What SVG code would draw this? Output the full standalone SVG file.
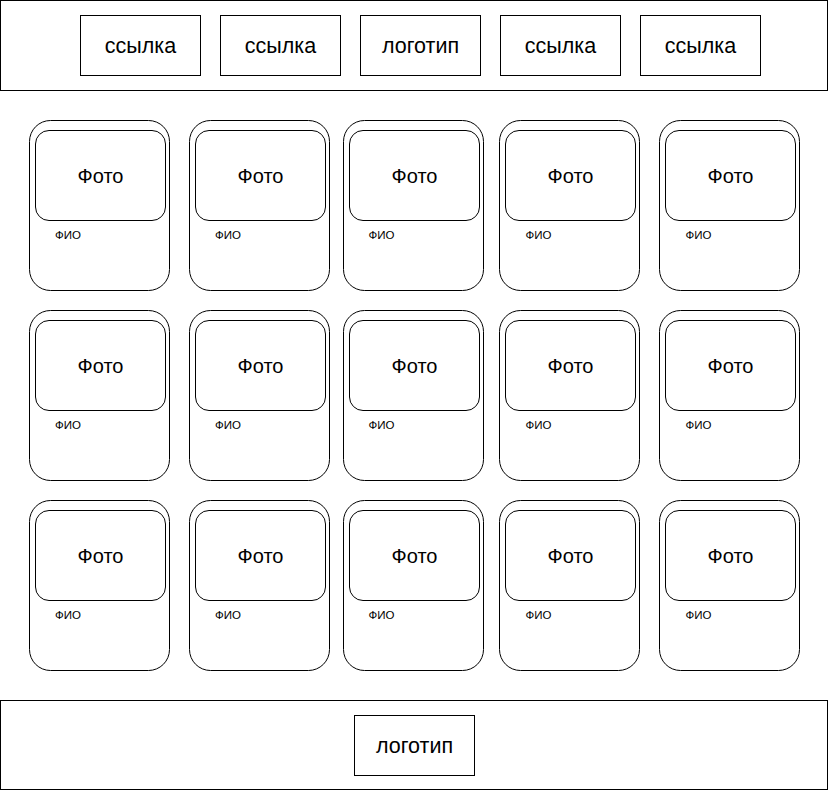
<svg xmlns="http://www.w3.org/2000/svg" width="828" height="791" viewBox="0 0 828 791">
<style>
rect{fill:#fff;stroke:#000;stroke-width:1}
.big{font-family:"Liberation Sans",Arial,sans-serif;font-size:20px;fill:#000;text-anchor:middle;dominant-baseline:central}
.nav{font-family:"Liberation Sans",Arial,sans-serif;font-size:21.5px;fill:#000;text-anchor:middle;dominant-baseline:central}
.small{font-family:"Liberation Sans",Arial,sans-serif;font-size:11.5px;fill:#000;dominant-baseline:central}
</style>
<rect x="0" y="0" width="828" height="791" style="stroke:none"/>
<g id="header">
<rect x="0.5" y="0.5" width="827" height="90"/>
</g>
<g id="link1"><rect x="80.5" y="15.5" width="120" height="60"/><text class="nav" x="140.5" y="45.5">ссылка</text></g>
<g id="link2"><rect x="220.5" y="15.5" width="120" height="60"/><text class="nav" x="280.5" y="45.5">ссылка</text></g>
<g id="logo-top"><rect x="360.5" y="15.5" width="120" height="60"/><text class="nav" x="420.5" y="45.5">логотип</text></g>
<g id="link3"><rect x="500.5" y="15.5" width="120" height="60"/><text class="nav" x="560.5" y="45.5">ссылка</text></g>
<g id="link4"><rect x="640.5" y="15.5" width="120" height="60"/><text class="nav" x="700.5" y="45.5">ссылка</text></g>

<defs>
<g id="card">
<rect x="0" y="0" width="140" height="170" rx="21" ry="21"/>
<rect x="6" y="10" width="130" height="90" rx="13.5" ry="13.5"/>
<text class="big" x="71" y="55">Фото</text>
</g>
</defs>

<g id="card-1-1"><use href="#card" x="29.5" y="120.5"/><text class="small" x="55" y="234.5">ФИО</text></g>
<g id="card-1-2"><use href="#card" x="189.5" y="120.5"/><text class="small" x="215" y="234.5">ФИО</text></g>
<g id="card-1-3"><use href="#card" x="343.5" y="120.5"/><text class="small" x="368.5" y="234.5">ФИО</text></g>
<g id="card-1-4"><use href="#card" x="499.5" y="120.5"/><text class="small" x="525.5" y="234.5">ФИО</text></g>
<g id="card-1-5"><use href="#card" x="659.5" y="120.5"/><text class="small" x="685.5" y="234.5">ФИО</text></g>

<g id="card-2-1"><use href="#card" x="29.5" y="310.5"/><text class="small" x="55" y="424.5">ФИО</text></g>
<g id="card-2-2"><use href="#card" x="189.5" y="310.5"/><text class="small" x="215" y="424.5">ФИО</text></g>
<g id="card-2-3"><use href="#card" x="343.5" y="310.5"/><text class="small" x="368.5" y="424.5">ФИО</text></g>
<g id="card-2-4"><use href="#card" x="499.5" y="310.5"/><text class="small" x="525.5" y="424.5">ФИО</text></g>
<g id="card-2-5"><use href="#card" x="659.5" y="310.5"/><text class="small" x="685.5" y="424.5">ФИО</text></g>

<g id="card-3-1"><use href="#card" x="29.5" y="500.5"/><text class="small" x="55" y="614.5">ФИО</text></g>
<g id="card-3-2"><use href="#card" x="189.5" y="500.5"/><text class="small" x="215" y="614.5">ФИО</text></g>
<g id="card-3-3"><use href="#card" x="343.5" y="500.5"/><text class="small" x="368.5" y="614.5">ФИО</text></g>
<g id="card-3-4"><use href="#card" x="499.5" y="500.5"/><text class="small" x="525.5" y="614.5">ФИО</text></g>
<g id="card-3-5"><use href="#card" x="659.5" y="500.5"/><text class="small" x="685.5" y="614.5">ФИО</text></g>

<g id="footer">
<rect x="0.5" y="700.5" width="827" height="89"/>
</g>
<g id="logo-bottom"><rect x="354.5" y="715.5" width="120" height="60"/><text class="nav" x="414.5" y="745.5">логотип</text></g>
<g id="connectors"/>
</svg>
